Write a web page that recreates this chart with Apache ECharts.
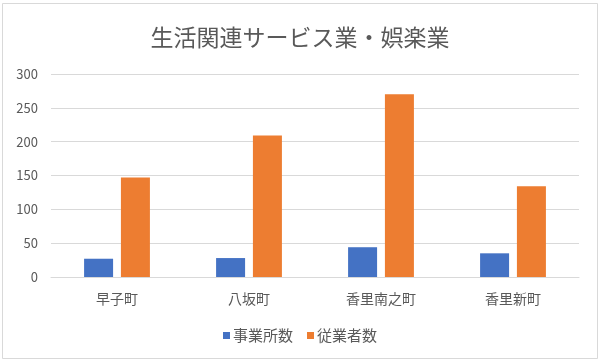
<!DOCTYPE html>
<html>
<head>
<meta charset="utf-8">
<script src="https://cdn.jsdelivr.net/npm/echarts@6/dist/echarts.min.js"></script>
<style>
html,body{margin:0;padding:0;background:#fff;}
#c{width:600px;height:364px;}
</style>
</head>
<body>
<div id="c"></div>
<script>
const titleText = '生活関連サービス業・娯楽業';
const categories = ['早子町', '八坂町', '香里南之町', '香里新町'];
const seriesNames = ['事業所数', '従業者数'];
const offices = [27, 28, 44, 35];
const employees = [147, 209, 270, 134];
const yTicks = [0, 50, 100, 150, 200, 250, 300];

const font = '"Noto Sans CJK JP", "Noto Sans", sans-serif';
const chart = echarts.init(document.getElementById('c'), null, {renderer: 'canvas'});
chart.setOption({
  backgroundColor: '#fff',
  animation: false,
  textStyle: {fontFamily: font},
  graphic: [{
    type: 'rect', left: 2, top: 3, z: -10,
    shape: {width: 595, height: 355},
    style: {fill: '#fff', stroke: '#d9d9d9', lineWidth: 1}
  }],
  title: {
    text: titleText, left: 'center', top: 21,
    textStyle: {fontSize: 23, fontWeight: 'normal', color: '#595959', fontFamily: font}
  },
  legend: {
    data: seriesNames, bottom: 16, left: 'center',
    itemWidth: 7, itemHeight: 7, itemGap: 14,
    icon: 'rect',
    textStyle: {fontSize: 15, color: '#595959', fontFamily: font, padding: [0,0,0,-2]}
  },
  grid: {left: 51, right: 21, top: 74, bottom: 87, containLabel: false},
  xAxis: {
    type: 'category', data: categories,
    axisLine: {lineStyle: {color: '#d9d9d9'}},
    axisTick: {show: false},
    axisLabel: {fontSize: 14, color: '#595959', margin: 15, fontFamily: font}
  },
  yAxis: {
    type: 'value', min: yTicks[0], max: yTicks[yTicks.length - 1], interval: yTicks[1] - yTicks[0],
    axisLine: {show: false}, axisTick: {show: false},
    axisLabel: {fontSize: 13, color: '#595959', margin: 13, fontFamily: font},
    splitLine: {lineStyle: {color: '#d9d9d9'}}
  },
  series: [
    {name: seriesNames[0], type: 'bar', data: offices, barWidth: 29, barGap: '27%',
     itemStyle: {color: '#4472c4'}},
    {name: seriesNames[1], type: 'bar', data: employees, barWidth: 29,
     itemStyle: {color: '#ed7d31'}}
  ]
});
</script>
</body>
</html>
